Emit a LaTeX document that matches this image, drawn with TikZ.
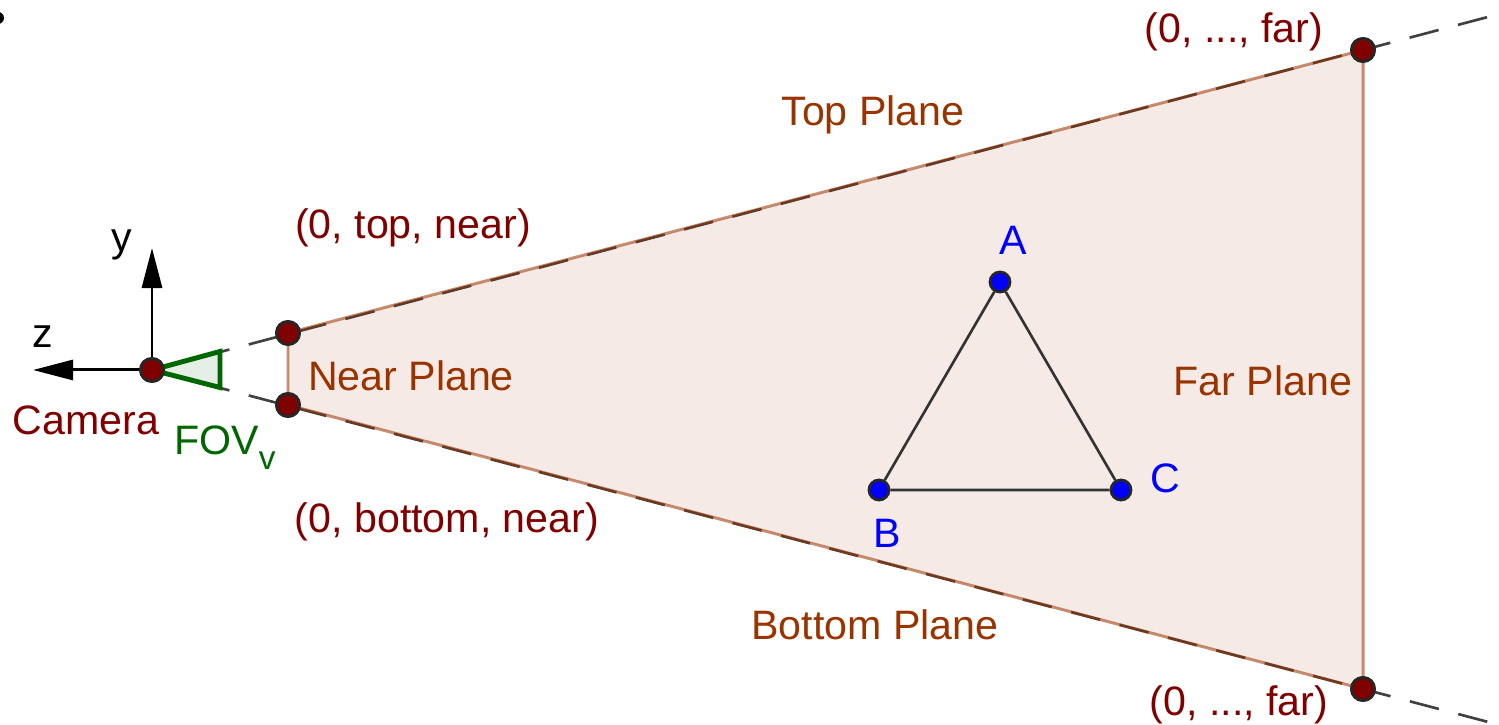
\documentclass[tikz,border=0pt]{standalone}
\usepackage{fontspec}
\setmainfont{Liberation Sans}
\usetikzlibrary{arrows.meta,calc}
\definecolor{ggbrown}{HTML}{993300}
\definecolor{ggred}{HTML}{800000}
\definecolor{gggreen}{HTML}{006600}
\tikzset{
  lbl/.style={font=\fontsize{11.7}{14}\selectfont},
  pt/.style={circle,draw=black!85,line width=0.8pt,fill=ggred,inner sep=0pt,minimum size=0.23cm},
  vtx/.style={circle,draw=black!85,line width=0.8pt,fill=blue,inner sep=0pt,minimum size=0.2cm},
  ray/.style={draw=black!75,line width=0.75pt,dash pattern=on 0.3cm off 0.2cm},
  axis/.style={line width=0.85pt,-{Triangle[length=4mm,width=2mm]}}
}
\begin{document}
\begin{tikzpicture}[x=0.01cm,y=-0.01cm]
\useasboundingbox (0,0) rectangle (1499,725);
\fill[black] (-2,18) circle (6);
\node[pt] (camera) at (152,370) {};
\node[pt] (neartop) at (288,333) {};
\node[pt] (nearbot) at (288,405) {};
\node[pt] (fartop) at (1363,50) {};
\node[pt] (farbot) at (1363,689) {};
\coordinate (zend) at (33,370);
\coordinate (yend) at (152,248);
\coordinate (topend) at ($(camera)!1.12!(fartop)$);
\coordinate (botend) at ($(camera)!1.12!(farbot)$);
\fill[ggbrown,fill opacity=0.1] (neartop.center) -- (fartop.center) -- (farbot.center) -- (nearbot.center) -- cycle;
\draw[ray] (camera.center) -- (topend);
\draw[ray] (camera.center) -- (botend);
\draw[ggbrown,draw opacity=0.55,line width=0.85pt] (neartop.center) -- (fartop.center) -- (farbot.center) -- (nearbot.center) -- cycle;
\draw[gggreen,line width=1.4pt,fill=gggreen,fill opacity=0.1] (camera.center) -- ($(camera)!0.5!(neartop)$) -- ($(camera)!0.5!(nearbot)$) -- cycle;
\draw[axis] (camera.center) -- (zend);
\draw[axis] (camera.center) -- (yend);
\node[pt] at (camera) {};
\node[pt] at (neartop) {};
\node[pt] at (nearbot) {};
\node[pt] at (fartop) {};
\node[pt] at (farbot) {};
\node[vtx] (A) at (1000,282) {};
\node[vtx] (B) at (879,490) {};
\node[vtx] (C) at (1121,490) {};
\draw[black!80,line width=0.75pt] (A) -- (B) -- (C) -- (A);
\node[lbl,text=blue] at (1013,240) {A};
\node[lbl,text=blue] at (887,533) {B};
\node[lbl,text=blue] at (1165,478) {C};
\node[lbl] at (122,245) {y};
\node[lbl] at (43,337) {z};
\node[lbl,text=ggred] at (86,420) {Camera};
\node[lbl,text=gggreen] at (225,448) {FOV\raisebox{-0.7ex}{\fontsize{9.5}{11}\selectfont v}};
\node[lbl,text=ggred] at (1234,32) {(0, ..., far)};
\node[lbl,text=ggred] at (1239,705) {(0, ..., far)};
\node[lbl,text=ggred] at (413,228) {(0, top, near)};
\node[lbl,text=ggred] at (447,522) {(0, bottom, near)};
\node[lbl,text=ggbrown] at (873,115) {Top Plane};
\node[lbl,text=ggbrown] at (875,625) {Bottom Plane};
\node[lbl,text=ggbrown] at (411,376) {Near Plane};
\node[lbl,text=ggbrown] at (1263,381) {Far Plane};
\end{tikzpicture}
\end{document}
